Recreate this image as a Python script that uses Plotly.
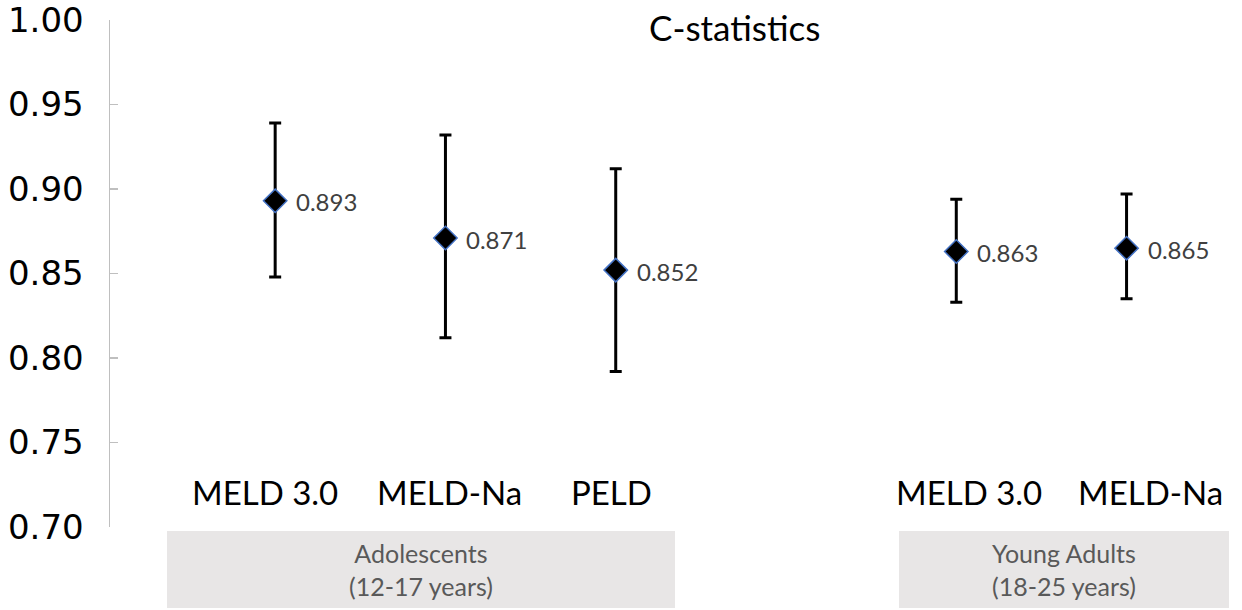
import plotly.graph_objects as go

# ---- data ----
categories = ["MELD 3.0", "MELD-Na", "PELD", "MELD 3.0", "MELD-Na"]
x_pos = [1, 2, 3, 5, 6]
c_stat = [0.893, 0.871, 0.852, 0.863, 0.865]
ci_upper = [0.939, 0.932, 0.912, 0.894, 0.897]
ci_lower = [0.848, 0.812, 0.792, 0.833, 0.835]
value_labels = ["0.893", "0.871", "0.852", "0.863", "0.865"]
groups = ["Adolescents<br>(12-17 years)", "Young Adults<br>(18-25 years)"]
y_ticks = [0.70, 0.75, 0.80, 0.85, 0.90, 0.95, 1.00]

W, H = 1242, 610
OFF = 0  # page body margin removed via post_script
# target plot area in page pixels: left 110, top 20, right 1210, bottom 527
ML, MT = 110 - OFF, 20 - OFF
MR = W - (1210 - OFF)
MB = H - (527 - OFF)
PW = W - ML - MR
PH = H - MT - MB

def px_x(px):
    return (px - OFF - ML) / PW

def px_y(py):
    return (H - MB - (py - OFF)) / PH

err_plus = [u - v for u, v in zip(ci_upper, c_stat)]
err_minus = [v - l for v, l in zip(c_stat, ci_lower)]

fig = go.Figure()
fig.add_trace(go.Scatter(
    x=x_pos, y=c_stat, mode="markers",
    marker=dict(symbol="diamond", size=18, color="black",
                line=dict(color="#4472c4", width=1.5)),
    error_y=dict(type="data", symmetric=False, array=err_plus,
                 arrayminus=err_minus, color="black", thickness=3, width=6),
    showlegend=False, hoverinfo="skip",
))

annotations = []
for x, y, t in zip(x_pos, c_stat, value_labels):
    annotations.append(dict(x=x, y=y, xref="x", yref="y", text=t,
                            showarrow=False, xanchor="left", yanchor="middle",
                            xshift=19, yshift=-1,
                            font=dict(family="Lato", size=24, color="#404040")))

cat_shift = [-10, 4, -4, 13, 24]
for x, c, s in zip(x_pos, categories, cat_shift):
    annotations.append(dict(x=x, y=px_y(492), xref="x", yref="paper", text=c,
                            showarrow=False, xanchor="center", yanchor="middle",
                            xshift=s,
                            font=dict(family="Lato", size=33, color="black")))

annotations.append(dict(x=px_x(734), y=px_y(27), xref="paper", yref="paper",
                        text="C-statistics", showarrow=False,
                        xanchor="center", yanchor="middle",
                        font=dict(family="Lato", size=35, color="black")))

box_px = [(167, 675), (899, 1229)]
shapes = []
for (x0, x1), g in zip(box_px, groups):
    shapes.append(dict(type="rect", xref="paper", yref="paper",
                       x0=px_x(x0), x1=px_x(x1), y0=px_y(608), y1=px_y(531),
                       fillcolor="#e8e6e6", line=dict(width=0), layer="below"))
    annotations.append(dict(x=px_x((x0 + x1) / 2), y=px_y(569),
                            xref="paper", yref="paper", text=g,
                            showarrow=False, xanchor="center", yanchor="middle",
                            font=dict(family="Lato", size=25, color="#595959")))

fig.update_layout(
    width=W, height=H,
    margin=dict(l=ML, r=MR, t=MT, b=MB, autoexpand=False),
    paper_bgcolor="white", plot_bgcolor="white",
    xaxis=dict(range=[0.03, 6.49], visible=False, showgrid=False,
               zeroline=False, automargin=False),
    yaxis=dict(range=[0.70, 1.00], tickvals=y_ticks,
               ticktext=[f"{v:.2f}" for v in y_ticks],
               showline=True, linecolor="#bfbfbf", linewidth=1.5,
               ticks="inside", ticklen=8, tickcolor="#bfbfbf", tickwidth=1.5,
               showgrid=False, zeroline=False, ticklabelstandoff=18,
               automargin=False, ticklabeloverflow="allow",
               tickfont=dict(family="DejaVu Sans", size=34, color="black")),
    annotations=annotations, shapes=shapes,
)

fig.write_html("out.html",
               config={"displayModeBar": False, "staticPlot": True},
               post_script="document.body.style.margin='0';document.body.style.padding='0';")
